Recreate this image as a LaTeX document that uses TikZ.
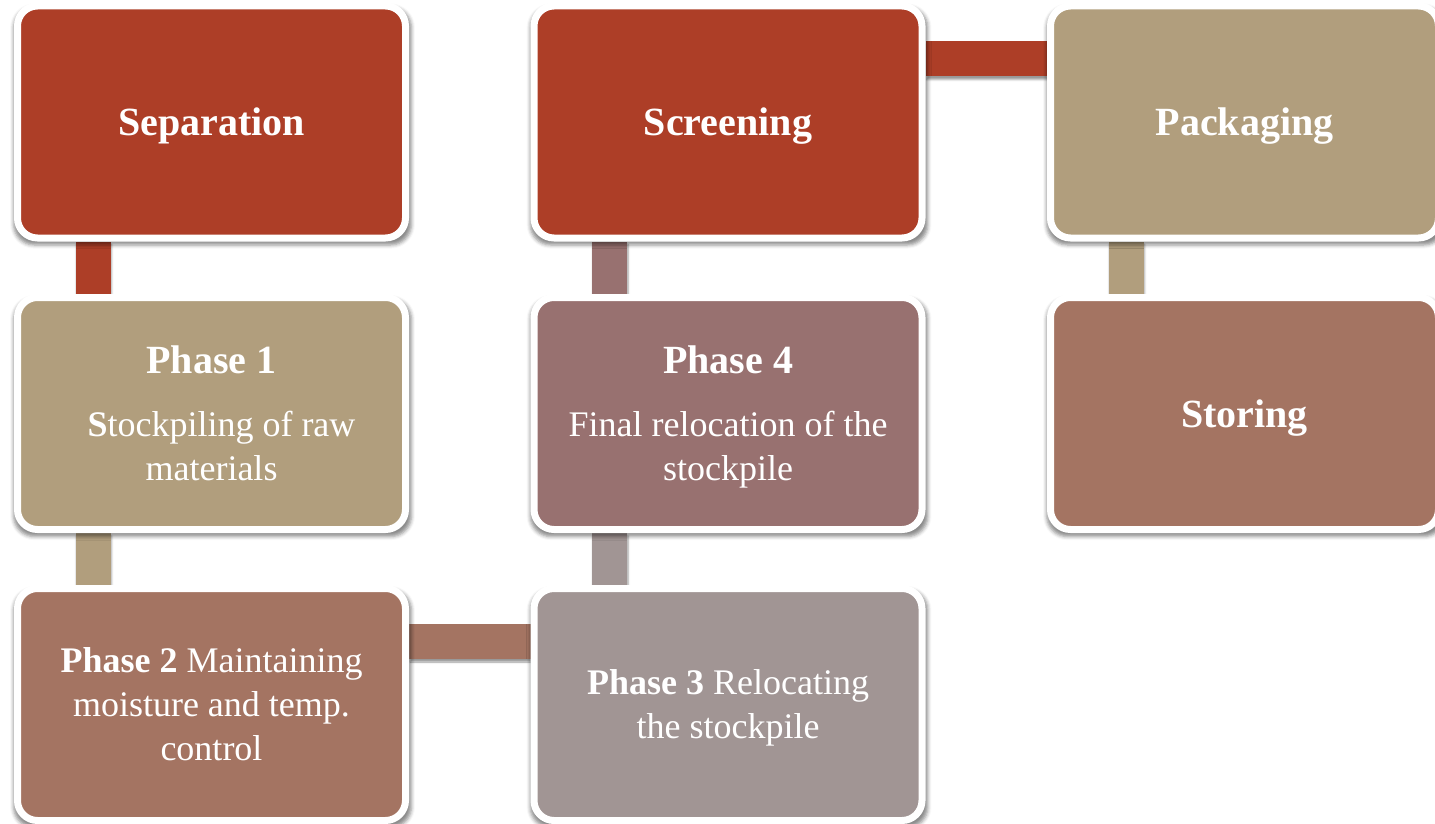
\documentclass[tikz,border=0pt]{standalone}
\usepackage{fontspec}
\setmainfont{Liberation Serif}
\usetikzlibrary{shadows,shadows.blur,backgrounds}
\definecolor{cred}{HTML}{AD3E27}
\definecolor{ctan}{HTML}{B19E7D}
\definecolor{cbrown}{HTML}{A47462}
\definecolor{cmauve}{HTML}{987170}
\definecolor{cgrey}{HTML}{A19594}
\newcommand\mytitle{\fontsize{40}{44}\selectfont\bfseries}
\newcommand\mybody{\fontsize{36}{44}\selectfont}
\begin{document}
\begin{tikzpicture}[x=1pt,y=-1pt,
  box/.style={draw=white, line width=7pt, rounded corners=20pt,
    minimum width=388pt, minimum height=232pt, inner sep=0pt,
    text=white, align=center, font=\mybody, text depth=0pt,
    blur shadow={shadow scale=1.025, shadow xshift=1pt, shadow yshift=-4pt, shadow blur radius=3.5pt, shadow opacity=45}},
  bar/.style={blur shadow={shadow xshift=1pt, shadow yshift=-3pt, shadow blur radius=2pt, shadow opacity=40}}]
\useasboundingbox (0,0) rectangle (1435,824);

\node[box, fill=cred] (sep) at (211.5,122) {\mytitle Separation};
\node[box, fill=cred] (scr) at (728,122) {\mytitle Screening};
\node[box, fill=ctan] (pack) at (1244.5,122) {\mytitle Packaging};
\node[box, fill=ctan] (ph1) at (211.5,413.5)
  {{\mytitle Phase 1}\\[19pt]\hspace*{20pt}\textbf{S}tockpiling of raw\\materials};
\node[box, fill=cmauve] (ph4) at (728,413.5)
  {{\mytitle Phase 4}\\[19pt]Final relocation of the\\stockpile};
\node[box, fill=cbrown] (sto) at (1244.5,413.5) {\mytitle Storing};
\node[box, fill=cbrown] (ph2) at (211.5,704.5)
  {\textbf{Phase 2} Maintaining\\moisture and temp.\\control};
\node[box, fill=cgrey] (ph3) at (728,704.5)
  {\textbf{Phase 3} Relocating\\the stockpile};

\begin{pgfonlayer}{background}
\fill[bar, cred] ([xshift=61.5pt]sep.south west) rectangle ([xshift=96.5pt]ph1.north west);
\fill[bar, ctan] ([xshift=61.5pt]ph1.south west) rectangle ([xshift=96.5pt]ph2.north west);
\fill[bar, cbrown] ([yshift=-39pt]ph2.north east) rectangle ([yshift=-74pt]ph3.north west);
\fill[bar, cgrey] ([xshift=61.5pt]ph3.north west) rectangle ([xshift=96.5pt]ph4.south west);
\fill[bar, cmauve] ([xshift=61.5pt]ph4.north west) rectangle ([xshift=96.5pt]scr.south west);
\fill[bar, cred] ([yshift=-39pt]scr.north east) rectangle ([yshift=-74pt]pack.north west);
\fill[bar, ctan] ([xshift=61.5pt]pack.south west) rectangle ([xshift=96.5pt]sto.north west);
\end{pgfonlayer}
\end{tikzpicture}
\end{document}
